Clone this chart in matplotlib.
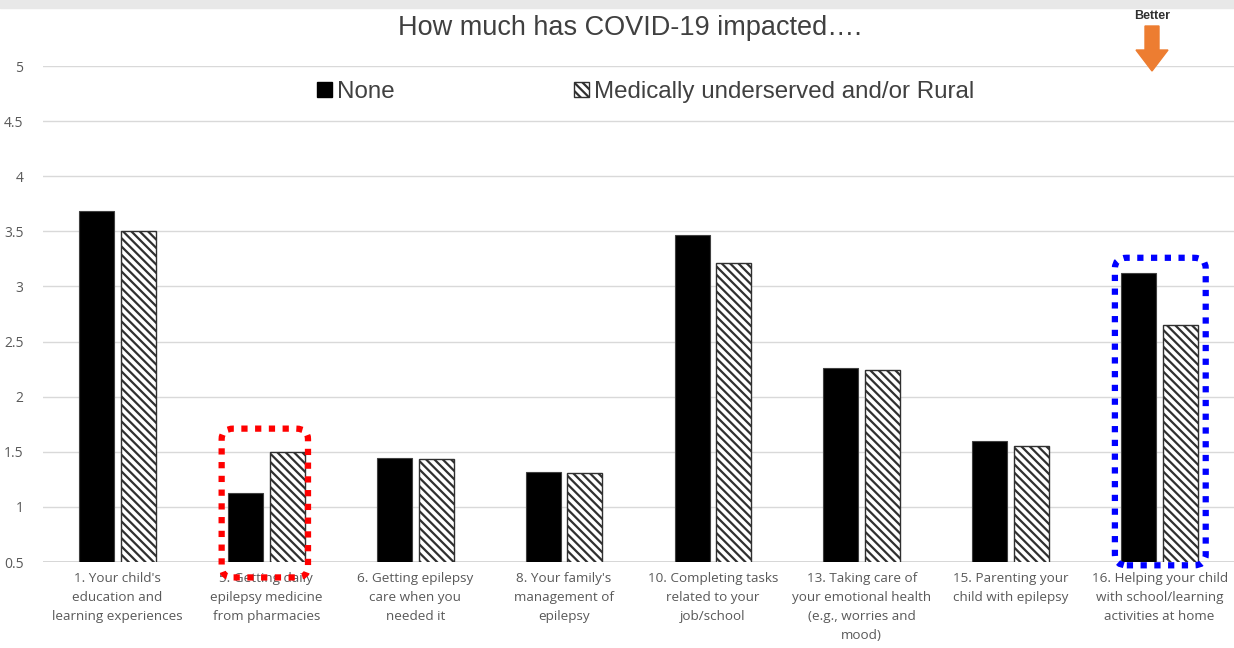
import matplotlib.pyplot as plt
from matplotlib.patches import FancyBboxPatch, Patch, FancyArrow
import numpy as np

# Data
categories = [
    "1. Your child's\neducation and\nlearning experiences",
    "5. Getting daily\nepilepsy medicine\nfrom pharmacies",
    "6. Getting epilepsy\ncare when you\nneeded it",
    "8. Your family's\nmanagement of\nepilepsy",
    "10. Completing tasks\nrelated to your\njob/school",
    "13. Taking care of\nyour emotional health\n(e.g., worries and\nmood)",
    "15. Parenting your\nchild with epilepsy",
    "16. Helping your child\nwith school/learning\nactivities at home",
]
none_vals = [3.68, 1.13, 1.44, 1.32, 3.47, 2.26, 1.60, 3.12]
rural_vals = [3.50, 1.50, 1.43, 1.31, 3.21, 2.24, 1.55, 2.65]
yticks = [0.5, 1, 1.5, 2, 2.5, 3, 3.5, 4, 4.5, 5]

plt.rcParams['font.family'] = ['Open Sans', 'DejaVu Sans']
plt.rcParams['hatch.linewidth'] = 1.6

fig = plt.figure(figsize=(12.34, 6.48), dpi=100)
ax = fig.add_axes([43 / 1234, 86 / 648, 1 - 43 / 1234, 496 / 648])

x = np.arange(len(categories))
w = 0.235
ax.bar(x - 0.14, none_vals, w, bottom=0, color='black', edgecolor='#404040',
       linewidth=0.8, label='None', zorder=3)
ax.bar(x + 0.14, rural_vals, w, bottom=0, color='white', edgecolor='#303030',
       hatch='\\\\\\\\', linewidth=1.0, label='Medically underserved and/or Rural', zorder=3)

ax.set_ylim(0.5, 5)
ax.set_xlim(-0.5, len(categories) - 0.5)
ax.set_yticks(yticks)
ax.set_yticklabels([f"{v:g}" for v in yticks])
ax.set_xticks(x)
ax.set_xticklabels(categories, fontsize=9.7, color='#595959', linespacing=1.6)
ax.tick_params(axis='y', length=0, labelsize=10, labelcolor='#595959', pad=14)
ax.tick_params(axis='x', length=0, pad=7)
ax.grid(axis='y', color='#d9d9d9', linewidth=1, zorder=0)
for s in ax.spines.values():
    s.set_visible(False)
ax.axhline(0.5, color='#d0d0d0', linewidth=1.2, zorder=1)

# Title
fig.text(630 / 1234, 1 - 28 / 648, 'How much has COVID-19 impacted\u2026.', ha='center',
         va='center', fontsize=19.5, color='#404040', family=['Liberation Sans', 'DejaVu Sans'])

# Legend
handles = [Patch(facecolor='black', edgecolor='black'),
           Patch(facecolor='white', edgecolor='#303030', hatch='\\\\\\\\')]
leg = ax.legend(handles, ['None', 'Medically underserved and/or Rural'], loc='center',
                bbox_to_anchor=(0.506, 1 - (92 - 66) / 496), ncol=2, frameon=False,
                handlelength=0.62, handleheight=0.62, columnspacing=7.4,
                handletextpad=0.2, prop={'family': ['Liberation Sans', 'DejaVu Sans'], 'size': 17.4})
for t in leg.get_texts():
    t.set_color('#404040')

# Dotted highlight boxes
red_box = FancyBboxPatch((0.70, 0.36), 0.58, 1.35, boxstyle='round,pad=0,rounding_size=0.08',
                         fill=False, edgecolor='red', linestyle=(0, (1, 1.2)), linewidth=4.5,
                         clip_on=False, zorder=4, mutation_aspect=1.2)
blue_box = FancyBboxPatch((6.70, 0.47), 0.61, 2.79, boxstyle='round,pad=0,rounding_size=0.08',
                          fill=False, edgecolor='#0000ff', linestyle=(0, (1, 1.2)), linewidth=4.5,
                          clip_on=False, zorder=4, mutation_aspect=1.2)
ax.add_patch(red_box)
ax.add_patch(blue_box)

# "Better" arrow
fig.text(1152 / 1234, 1 - 16 / 648, 'Better', ha='center', va='center', fontsize=9,
         color='#303030', fontweight='bold', family=['Liberation Sans', 'DejaVu Sans'])
arrow = FancyArrow(1152 / 1234, 1 - 26 / 648, 0, -45 / 648, width=14 / 1234,
                   head_width=32 / 1234, head_length=21 / 648, length_includes_head=True,
                   color='#ed7d31', transform=fig.transFigure)
fig.patches.append(arrow)

# light strip at top
fig.patches.append(plt.Rectangle((0, 1 - 8 / 648), 1, 8 / 648, transform=fig.transFigure,
                                 color='#e8e8e8', zorder=0))

fig.savefig('out.png', dpi=100, facecolor='white')
